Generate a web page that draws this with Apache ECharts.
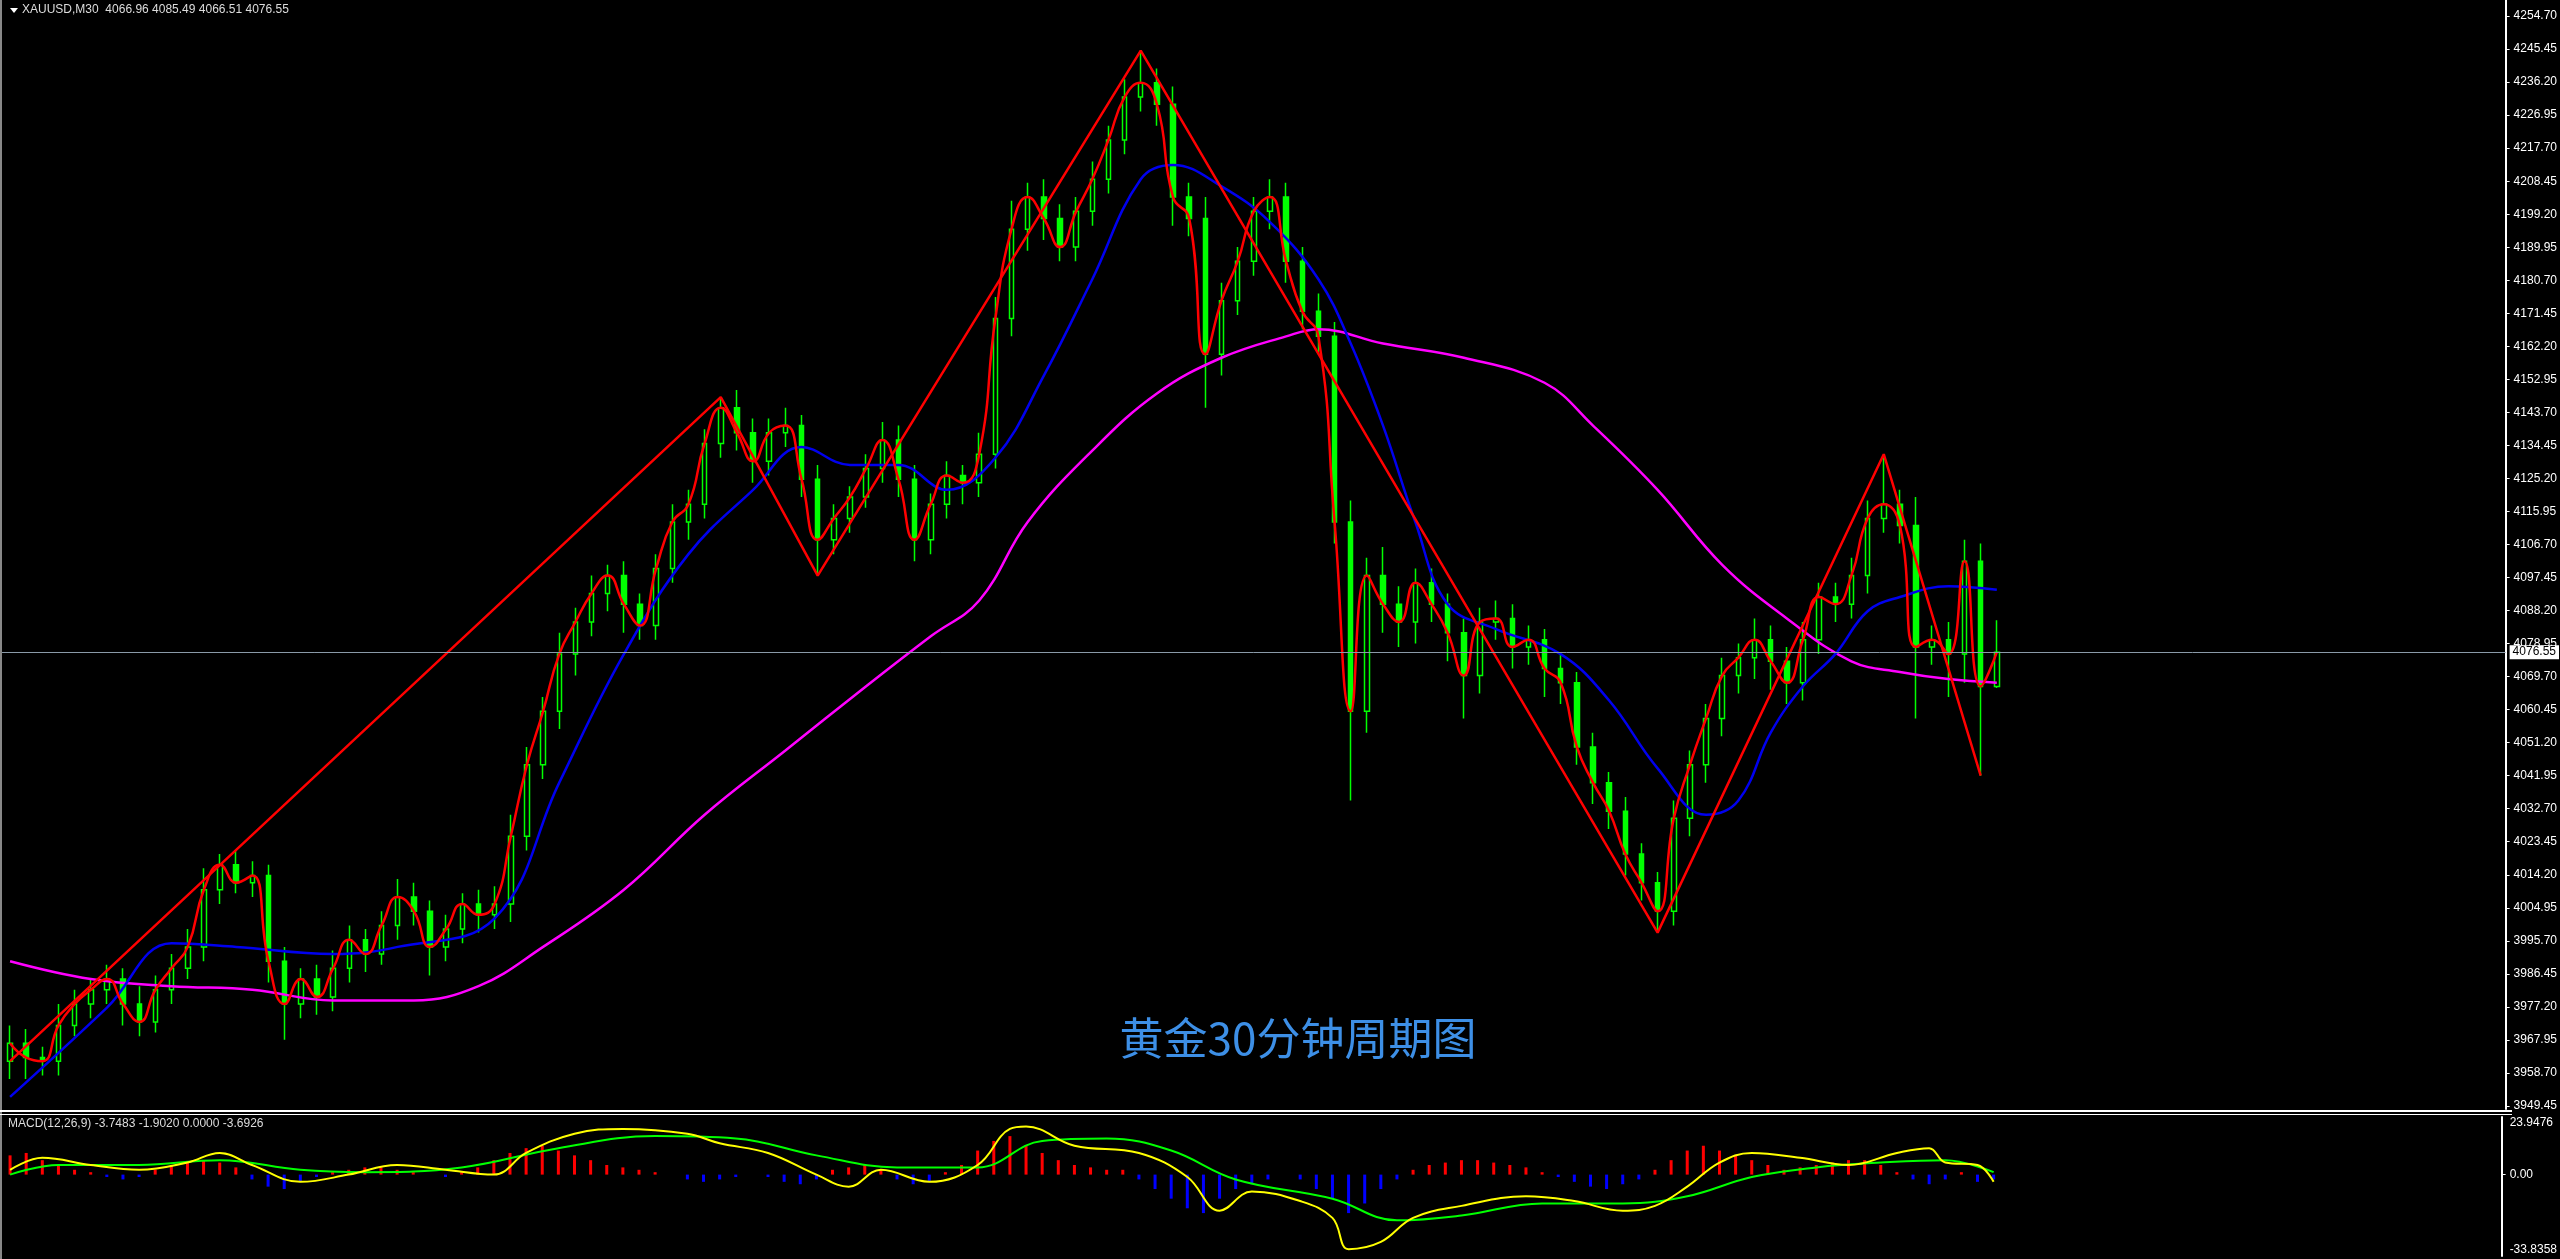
<!DOCTYPE html>
<html><head><meta charset="utf-8">
<script src="https://cdn.jsdelivr.net/npm/echarts@6/dist/echarts.min.js"></script>
<style>html,body{margin:0;background:#000;}#c{width:2560px;height:1259px;}</style>
</head><body><div id="c"></div>
<script>
const closes=[3967,3963,3962,3972,3978,3982,3985,3978,3973,3982,
3988,3994,4010,4017,4012,4014,3990,3978,3985,3980,
3988,3996,3992,4000,4008,4004,3994,3999,4006,4003,
4006,4025,4045,4060,4076,4085,4093,4098,4090,4084,
4100,4113,4118,4135,4145,4138,4130,4138,4140,4125,
4108,4114,4120,4128,4136,4125,4108,4118,4126,4124,
4132,4170,4195,4204,4198,4190,4200,4209,4220,4232,
4236,4230,4204,4198,4160,4175,4186,4200,4204,4186,
4172,4165,4113,4060,4098,4090,4085,4096,4090,4082,
4070,4085,4086,4078,4080,4072,4068,4050,4040,4032,
4020,4012,4004,4030,4045,4058,4070,4075,4080,4074,
4068,4080,4092,4090,4098,4114,4118,4112,4078,4080,
4076,4102,4066.96,4076.55];
const upWick=[5,4,3,6,4,3,4,3,5,4, 4,5,6,3,4,4,3,4,3,4, 5,4,3,4,5,4,3,4,3,4, 5,6,5,4,6,4,5,3,4,3,
4,5,4,4,3,5,4,4,5,3, 4,4,3,4,5,4,4,3,4,3, 6,6,8,4,5,4,4,5,4,5, 9,4,5,4,6,5,4,4,5,4,
4,5,4,6,5,8,5,4,4,3, 4,4,5,4,4,3,4,3,4,3, 4,3,3,5,4,4,5,4,6,4, 4,5,4,4,5,5,13,4,8,4, 5,6,5,8.94];
const dnWick=[5,6,4,4,3,4,4,6,4,3, 4,3,4,4,3,4,6,10,4,5, 4,4,5,3,4,4,8,4,4,5, 4,5,4,4,5,6,4,5,8,4,
4,4,5,4,4,5,6,4,4,5, 10,4,4,3,4,5,6,4,4,6, 4,4,5,6,6,4,4,4,4,4, 4,6,8,5,15,6,4,4,5,6,
5,5,6,25,6,8,7,6,5,8, 12,5,5,6,5,8,6,5,6,5, 6,5,6,4,5,5,5,5,6,8, 6,5,4,5,4,5,4,5,20,5, 12,8,25,0.45];
const firstOpen=3962;
const maBlue=[[0,3952],[6,3977],[10,3995],[14,3994],[20,3992],[24,3994],[30,4002],[34,4040],[38,4076],[42,4104],[46,4122],[49,4134],[52,4129],[55,4129],[58,4122],[61,4131],[64,4154],[67,4181],[70,4209],[72,4213],[75,4207],[78,4197],[81,4181],[83,4163],[85,4140],[87,4113],[89,4090],[92,4083],[96,4076],[99,4063],[102,4044],[105,4031],[107,4035],[109,4054],[111,4067],[113,4076],[115,4088],[117,4092],[120,4095],[123,4094]];
const maMagenta=[[0,3990],[5,3985],[10,3983],[15,3982],[20,3979],[25,3979],[29,3983],[33,3994],[38,4010],[43,4031],[48,4049],[53,4067],[57,4081],[60,4091],[63,4113],[67,4133],[71,4149],[75,4159],[79,4165],[81,4167],[85,4163],[90,4159],[95,4152],[98,4140],[102,4122],[106,4101],[110,4086],[114,4074],[117,4071],[120,4069],[123,4068]];
const zigzag=[[0,3962],[44,4148],[50,4098],[70,4245],[102,3998],[116,4132],[122,4042]];
const macdLine=[[0,2],[2,7],[5,4],[8,2],[11,5],[13,9],[15,4],[18,-3],[21,0],[24,4],[27,2],[30,0],[32,9],[35,17],[38,19],[42,17],[44,13],[47,9],[50,0],[52,-5],[54,2],[57,-3],[60,4],[62,19],[63,20],[66,12],[70,9],[73,-1],[75,-15],[77,-7],[80,-11],[82,-18],[83,-31],[85,-28],[87,-18],[90,-13],[94,-9],[97,-11],[100,-15],[102,-13],[104,-5],[106,5],[108,9],[111,7],[114,4],[117,9],[119,11],[120,5],[122,4],[123,-3]];
const signalLine=[[0,0],[3,4],[8,4],[13,6],[18,2],[22,1],[28,3],[34,11],[40,16],[45,15],[50,8],[55,3],[60,3],[64,14],[68,15],[72,10],[76,-2],[82,-10],[86,-19],[90,-17],[95,-12],[100,-12],[104,-9],[108,-1],[112,3],[116,5],[120,6],[123,1]];
const hist=[8,9,6,4, 2,1,-1,-2,-1, 2,4,5,6,5,3, -2,-5,-6, -3,-1,1,2,3, 3,2,1,0,-1, 1,3,6,9, 11,12,10,8,6, 4,3,2,1,0, -2,-3,-2,-1,0, -1,-3,-4,-2, 2,3,4,2, -2,-4,-3,1, 4,10,14,16,12, 9,6,4,3,2, 2,-2,-6,-10, -14,-16,-10,-6,-4, -2,0,-2,-6,-10, -16,-12,-6,-2, 2,4,5,6,6, 5,4,3,1,-1, -3,-5,-6,-4,-2, 2,6,10,12,10, 8,6,4,2,3, 4,5,6,6,4, 1,-2,-4,-2,1, -3,-2];
const priceTicks=['3949.45','3958.70','3967.95','3977.20','3986.45','3995.70','4004.95','4014.20','4023.45','4032.70','4041.95','4051.20','4060.45','4069.70','4078.95','4088.20','4097.45','4106.70','4115.95','4125.20','4134.45','4143.70','4152.95','4162.20','4171.45','4180.70','4189.95','4199.20','4208.45','4217.70','4226.95','4236.20','4245.45','4254.70'];
const macdTicks=['-33.8358','0.00','23.9476'];
const lastPrice=4076.55;
const NCAT=155;

const cats=[];for(let i=0;i<NCAT;i++)cats.push(i);
const candle=closes.map((c,i)=>{const o=i===0?firstOpen:closes[i-1];return [o,c,Math.min(o,c)-dnWick[i],Math.max(o,c)+upWick[i]];});
const fast=closes.map((c,i)=>[i,c]);
const histData=hist.map((v,i)=>({value:v,itemStyle:{color:v>=0?'#ff0000':'#0000ff'}}));
const lab={color:'#fff',fontFamily:'Liberation Sans',fontSize:12};
const ch=echarts.init(document.getElementById('c'));
ch.setOption({
backgroundColor:'#000',animation:false,
grid:[{left:2,right:48,top:0,height:1109},{left:2,right:48,top:1117,height:139}],
xAxis:[{type:'category',data:cats,gridIndex:0,show:false},{type:'category',data:cats,gridIndex:1,show:false}],
yAxis:[{type:'value',gridIndex:0,position:'right',min:3948.6,max:4259.2,splitLine:{show:false},
 axisLine:{show:true,lineStyle:{color:'#fff',width:2}},axisTick:{show:true,length:4,lineStyle:{color:'#fff'},customValues:priceTicks.map(Number)},
 axisLabel:Object.assign({customValues:priceTicks.map(Number),formatter:v=>v.toFixed(2),margin:8},lab)},
 {type:'value',gridIndex:1,position:'right',min:-33.8358,max:23.9476,splitLine:{show:false},
 axisLine:{show:true,lineStyle:{color:'#fff',width:2}},axisTick:{show:true,length:4,lineStyle:{color:'#fff'},customValues:[0]},
 axisLabel:Object.assign({customValues:macdTicks.map(Number),formatter:v=>v===0?'0.00':String(v),margin:8,
  verticalAlignMinLabel:'bottom',verticalAlignMaxLabel:'top'},lab)}],
series:[
{type:'candlestick',data:candle,barMaxWidth:5,itemStyle:{color:'#000',color0:'#00ff00',borderColor:'#00ff00',borderColor0:'#00ff00',borderWidth:1.5},
 markLine:{symbol:'none',silent:true,data:[{yAxis:lastPrice}],lineStyle:{color:'#8a9aa8',width:1,type:'solid'},
 label:{position:'end',formatter:'4076.55',backgroundColor:'#fff',color:'#000',fontFamily:'Liberation Sans',fontSize:12,padding:[1,3],distance:4}}},
{type:'line',data:maMagenta,symbol:'none',smooth:0.4,lineStyle:{color:'#ff00ff',width:2.5}},
{type:'line',data:maBlue,symbol:'none',smooth:0.4,lineStyle:{color:'#0000ee',width:2.5}},
{type:'line',data:fast,symbol:'none',smooth:0.5,lineStyle:{color:'#ff0000',width:2.5}},
{type:'line',data:zigzag,symbol:'none',lineStyle:{color:'#ff0000',width:2.5}},
{type:'bar',xAxisIndex:1,yAxisIndex:1,data:histData,barWidth:3},
{type:'line',xAxisIndex:1,yAxisIndex:1,data:signalLine,symbol:'none',smooth:0.4,lineStyle:{color:'#00ff00',width:2}},
{type:'line',xAxisIndex:1,yAxisIndex:1,data:macdLine,symbol:'none',smooth:0.4,lineStyle:{color:'#ffff00',width:2}}
],
graphic:[
{type:'rect',shape:{x:0,y:0,width:2,height:1259},style:{fill:'#888'}},
{type:'rect',shape:{x:0,y:1110,width:2512,height:2},style:{fill:'#fff'}},
{type:'rect',shape:{x:0,y:1114,width:2512,height:1},style:{fill:'#fff'}},
{type:'polygon',shape:{points:[[10,8],[18,8],[14,13]]},style:{fill:'#fff'}},
{type:'text',x:22,y:4,style:{text:'XAUUSD,M30  4066.96 4085.49 4066.51 4076.55',fill:'#ddd',font:'12px "Liberation Sans"'}},
{type:'text',x:8,y:1118,style:{text:'MACD(12,26,9) -3.7483 -1.9020 0.0000 -3.6926',fill:'#ddd',font:'12px "Liberation Sans"'}},
{type:'text',x:1298,y:1038,style:{text:'黄金30分钟周期图',fill:'#3d8fe6',font:'44px "Noto Sans CJK SC"',align:'center',verticalAlign:'middle'}}
]});
</script></body></html>
